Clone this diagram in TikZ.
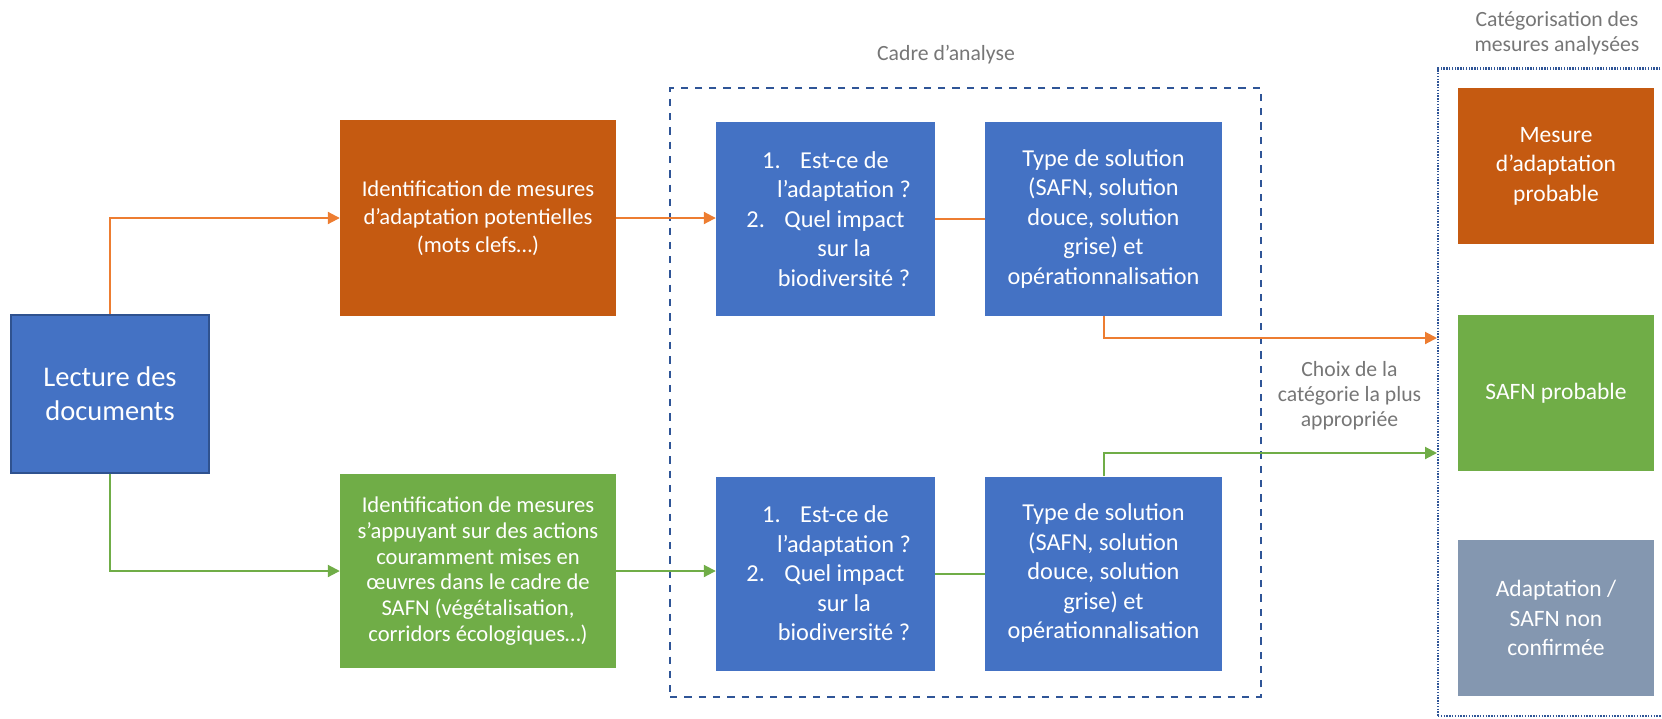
\documentclass[tikz,border=0pt]{standalone}
\usepackage{fontspec}
\setmainfont{Carlito}
\usetikzlibrary{arrows.meta}
\definecolor{bluefill}{HTML}{4472C4}
\definecolor{blueedge}{HTML}{2F528F}
\definecolor{orangefill}{HTML}{C55A11}
\definecolor{greenfill}{HTML}{70AD47}
\definecolor{greyfill}{HTML}{8497B0}
\definecolor{orangeline}{HTML}{ED7D31}
\definecolor{greenline}{HTML}{70AD47}
\definecolor{frameblue}{HTML}{2F5597}
\definecolor{labelgrey}{HTML}{767676}
\begin{document}
\begin{tikzpicture}[x=1pt,y=-1pt,
  box/.style={rectangle, inner sep=0pt, text=white, align=center},
  bluebox/.style={box, fill=bluefill, minimum width=#1, minimum height=194pt,
    font=\fontsize{24.3pt}{29.5pt}\selectfont},
  catbox/.style={box, fill=#1, minimum width=196pt, minimum height=156pt,
    font=\fontsize{23.5pt}{29.5pt}\selectfont},
  idbox/.style={box, fill=#1, minimum width=276pt},
  oarrow/.style={draw=orangeline, line width=2pt, -{Triangle[length=12pt,width=12pt]}},
  garrow/.style={draw=greenline, line width=2pt, -{Triangle[length=12pt,width=12pt]}},
  oline/.style={draw=orangeline, line width=2pt},
  gline/.style={draw=greenline, line width=2pt},
  graylabel/.style={text=labelgrey, align=center, inner sep=0pt,
    font=\fontsize{21.7pt}{25pt}\selectfont}
]
\useasboundingbox (0,0) rectangle (1662,718);

% frames
\node[draw=frameblue, line width=2.6pt, dash pattern=on 7.3pt off 7pt,
  minimum width=591pt, minimum height=609pt, inner sep=0pt] (cadre) at (965.5,392.5) {};
\node[draw=frameblue, line width=2.4pt, dash pattern=on 1.4pt off 1.4pt,
  minimum width=234pt, minimum height=647.5pt, inner sep=0pt] (catframe) at (1555,392.25) {};

% labels
\node[graylabel] (cadrelbl) at (946,55) {Cadre d’analyse};
\node[graylabel] (catlbl) at (1557,33) {Catégorisation des\\mesures analysées};
\node[graylabel] (choix) at (1349.5,396) {Choix de la\\catégorie la plus\\appropriée};

% left
\node[box, fill=bluefill, draw=blueedge, line width=2pt, minimum width=198pt, minimum height=158pt,
  font=\fontsize{28.5pt}{34pt}\selectfont] (lect) at (110,394) {Lecture des\\documents};

\node[idbox=orangefill, minimum height=196pt, font=\fontsize{22.6pt}{28pt}\selectfont] (orng) at (478,218)
  {Identification de mesures\\d’adaptation potentielles\\(mots clefs…)};
\node[idbox=greenfill, minimum height=194pt, font=\fontsize{22.6pt}{25.8pt}\selectfont] (grn) at (478,571)
  {Identification de mesures\\s’appuyant sur des actions\\couramment mises en\\œuvres dans le cadre de\\SAFN (végétalisation,\\corridors écologiques…)};

% analysis boxes
\node[bluebox=219pt] (b1t) at (825.5,219)
  {\makebox[38pt][l]{1.}Est-ce de\\\hspace*{37pt}l’adaptation ?\\\makebox[38pt][l]{2.}Quel impact\\\hspace*{37pt}sur la\\\hspace*{37pt}biodiversité ?};
\node[bluebox=237pt] (b2t) at (1103.5,219)
  {Type de solution\\(SAFN, solution\\douce, solution\\grise) et\\opérationnalisation};
\node[bluebox=219pt] (b1b) at (825.5,573.5)
  {\makebox[38pt][l]{1.}Est-ce de\\\hspace*{37pt}l’adaptation ?\\\makebox[38pt][l]{2.}Quel impact\\\hspace*{37pt}sur la\\\hspace*{37pt}biodiversité ?};
\node[bluebox=237pt] (b2b) at (1103.5,573.5)
  {Type de solution\\(SAFN, solution\\douce, solution\\grise) et\\opérationnalisation};

% categories
\node[catbox=orangefill] (c1) at (1556,166) {Mesure\\d’adaptation\\probable};
\node[catbox=greenfill] (c2) at (1556,393) {SAFN probable};
\node[catbox=greyfill] (c3) at (1556,618) {Adaptation /\\SAFN non\\confirmée};

% connectors
\coordinate (in1) at (1437,338);
\coordinate (in2) at (1437,453);
\draw[oarrow] (lect.north) |- (orng.west);
\draw[garrow] (lect.south) |- (grn.west);
\draw[oarrow] (orng.east) -- (orng.east -| b1t.west);
\draw[garrow] (grn.east) -- (grn.east -| b1b.west);
\draw[oline] (b1t.east) -- (b2t.west);
\draw[gline] (b1b.east) -- (b2b.west);
\draw[oarrow] (b2t.south) |- (in1);
\draw[garrow] (b2b.north) |- (in2);
\end{tikzpicture}
\end{document}
